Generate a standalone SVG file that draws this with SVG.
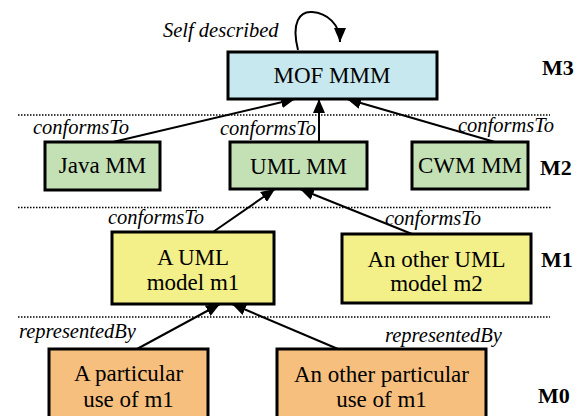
<svg xmlns="http://www.w3.org/2000/svg" width="582" height="416" viewBox="0 0 582 416">
<style>
.box{stroke:#000;stroke-width:3}
.t{font-family:'Liberation Serif','Times New Roman','DejaVu Serif',serif;font-size:23px;fill:#000;text-anchor:middle}
.i{font-family:'Liberation Serif','Times New Roman','DejaVu Serif',serif;font-size:20.5px;font-style:italic;fill:#000}
.m{font-family:'Liberation Serif','Times New Roman','DejaVu Serif',serif;font-size:22px;font-weight:bold;fill:#000}
.c{stroke:#000;stroke-width:2;fill:none;marker-end:url(#ah)}
.dot{stroke:#000;stroke-width:1.5;stroke-dasharray:1.5 1.5;fill:none}
</style>
<defs>
<marker id="ah" markerUnits="userSpaceOnUse" markerWidth="14" markerHeight="12" refX="14" refY="6" orient="auto">
<path d="M0,0 L14,6 L0,12 z" fill="#000"/>
</marker>
</defs>
<rect width="582" height="416" fill="#fff"/>
<g id="separators">
<line class="dot" x1="18" y1="115" x2="550" y2="115"/>
<line class="dot" x1="18" y1="207.5" x2="552" y2="207.5"/>
<line class="dot" x1="18" y1="317" x2="550" y2="317"/>
</g>
<g id="levels">
<text class="m" x="542" y="75">M3</text>
<text class="m" x="540" y="175">M2</text>
<text class="m" x="541" y="267">M1</text>
<text class="m" x="538" y="403">M0</text>
</g>
<g id="connectors">
<path class="c" d="M298,50 C291,22 300,11 312,12 C327,13 340,24 340,42"/>
<line class="c" x1="113" y1="142" x2="295" y2="99"/>
<line class="c" x1="319" y1="142" x2="319" y2="99"/>
<line class="c" x1="495" y1="142" x2="347" y2="99"/>
<line class="c" x1="213" y1="232" x2="275" y2="189"/>
<line class="c" x1="412" y1="234" x2="300" y2="189"/>
<line class="c" x1="137" y1="349" x2="220" y2="304"/>
<line class="c" x1="338" y1="349" x2="232" y2="304"/>
</g>
<g id="labels">
<text class="i" x="163" y="37">Self described</text>
<text class="i" x="33" y="134">conformsTo</text>
<text class="i" x="220" y="135">conformsTo</text>
<text class="i" x="458" y="132">conformsTo</text>
<text class="i" x="108" y="224">conformsTo</text>
<text class="i" x="385" y="225">conformsTo</text>
<text class="i" x="19" y="338">representedBy</text>
<text class="i" x="385" y="342">representedBy</text>
</g>
<g id="mof">
<rect class="box" x="228" y="52" width="209" height="47" fill="#c6e8ee"/>
<text class="t" x="332" y="83">MOF MMM</text>
</g>
<g id="java">
<rect class="box" x="45" y="142" width="115" height="48" fill="#c4e1b6"/>
<text class="t" x="102.5" y="173">Java MM</text>
</g>
<g id="uml">
<rect class="box" x="230" y="142" width="137" height="47" fill="#c4e1b6"/>
<text class="t" x="298.5" y="174">UML MM</text>
</g>
<g id="cwm">
<rect class="box" x="412" y="142" width="116" height="47" fill="#c4e1b6"/>
<text class="t" x="470" y="173">CWM MM</text>
</g>
<g id="m1">
<rect class="box" x="112" y="232" width="162" height="72" fill="#f3ef89"/>
<text class="t" x="193" y="265">A UML</text>
<text class="t" x="193" y="290">model m1</text>
</g>
<g id="m2">
<rect class="box" x="342" y="234" width="189" height="69" fill="#f3ef89"/>
<text class="t" x="436.5" y="267">An other UML</text>
<text class="t" x="436.5" y="291">model m2</text>
</g>
<g id="use1">
<rect class="box" x="49" y="349" width="159" height="80" fill="#f6bf7e"/>
<text class="t" x="128.5" y="381">A particular</text>
<text class="t" x="128.5" y="407">use of m1</text>
</g>
<g id="use2">
<rect class="box" x="277" y="349" width="209" height="80" fill="#f6bf7e"/>
<text class="t" x="381.5" y="382">An other particular</text>
<text class="t" x="381.5" y="407">use of m1</text>
</g>
</svg>
